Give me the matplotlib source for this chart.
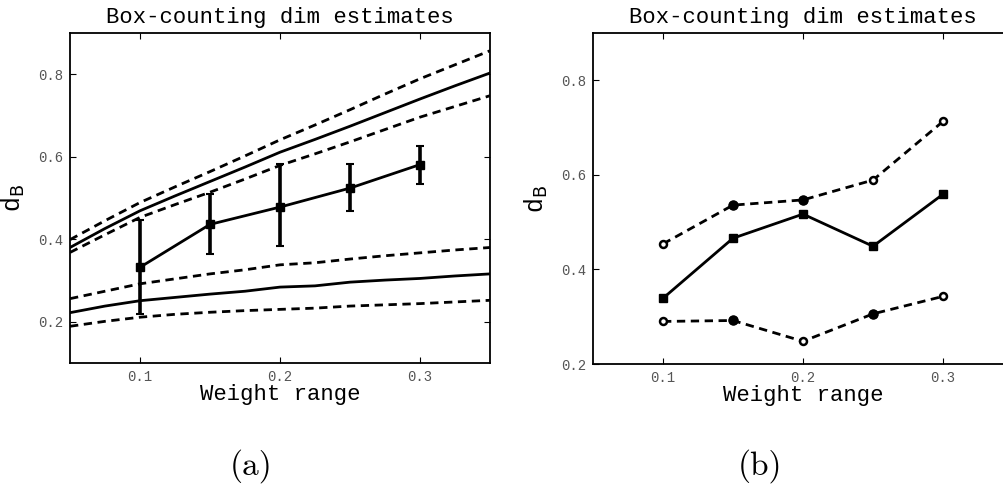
import matplotlib
matplotlib.use("Agg")
import matplotlib.pyplot as plt

# ---- data ----
# panel (a): dense curves on a 0.025 grid
grid_x = [0.05, 0.075, 0.1, 0.125, 0.15, 0.175, 0.2, 0.225, 0.25, 0.275, 0.3, 0.325, 0.35]
hi_upper = [0.399, 0.445, 0.489, 0.527, 0.564, 0.602, 0.641, 0.677, 0.714, 0.752, 0.789, 0.823, 0.857]
hi_mean = [0.380, 0.426, 0.469, 0.505, 0.540, 0.575, 0.611, 0.642, 0.674, 0.707, 0.740, 0.772, 0.803]
hi_lower = [0.368, 0.411, 0.453, 0.484, 0.514, 0.546, 0.579, 0.607, 0.636, 0.666, 0.696, 0.722, 0.748]
lo_upper = [0.256, 0.274, 0.292, 0.304, 0.316, 0.326, 0.338, 0.343, 0.352, 0.360, 0.367, 0.374, 0.380]
lo_mean = [0.222, 0.238, 0.251, 0.259, 0.267, 0.274, 0.284, 0.287, 0.296, 0.301, 0.305, 0.311, 0.316]
lo_lower = [0.189, 0.201, 0.211, 0.218, 0.223, 0.227, 0.230, 0.233, 0.238, 0.241, 0.244, 0.248, 0.252]

# panel (a): measured estimates with error bars
wr = [0.1, 0.15, 0.2, 0.25, 0.3]
est = [0.332, 0.436, 0.478, 0.524, 0.581]
est_hi = [0.446, 0.510, 0.582, 0.583, 0.627]
est_lo = [0.220, 0.364, 0.384, 0.469, 0.535]

# panel (b)
b_mean = [0.339, 0.466, 0.517, 0.449, 0.559]
b_upper = [0.454, 0.536, 0.547, 0.589, 0.713]
b_lower = [0.290, 0.292, 0.248, 0.306, 0.343]
b_upper_filled = [False, True, True, False, False]
b_lower_filled = [False, True, False, True, False]

xticks = [0.1, 0.2, 0.3]
yticks = [0.2, 0.4, 0.6, 0.8]

MONO = "Liberation Mono"
plt.rcParams["font.family"] = MONO
plt.rcParams["mathtext.default"] = "regular"

LW = 2.0
DASH = (3, 2)


def style_axes(ax, ylim):
    ax.set_xlim(0.05, 0.35)
    ax.set_ylim(*ylim)
    ax.set_xticks(xticks)
    ax.set_yticks(yticks)
    ax.set_xticklabels([f"{t:.1f}" for t in xticks])
    ax.set_yticklabels([f"{t:.1f}" for t in yticks])
    ax.tick_params(direction="in", top=True, right=True, length=4, width=0.8,
                   labelsize=10, labelcolor="#555555", pad=5)
    for s in ax.spines.values():
        s.set_linewidth(1.3)
    ax.set_title("Box-counting dim estimates", fontsize=16, pad=7)
    ax.set_xlabel("Weight range", fontsize=16, labelpad=0)
    ax.set_ylabel(r"d$_\mathrm{B}$", fontsize=18, labelpad=8)


fig = plt.figure(figsize=(10.04, 5.03), dpi=100)
W, H = 1004, 503
ax_a = fig.add_axes([70 / W, 1 - 363 / H, 420 / W, 330 / H])
ax_b = fig.add_axes([593 / W, 1 - 364 / H, 420 / W, 331 / H])

# (a)
for ys in (hi_upper, hi_lower, lo_upper, lo_lower):
    ax_a.plot(grid_x, ys, color="black", lw=LW, dashes=DASH)
for ys in (hi_mean, lo_mean):
    ax_a.plot(grid_x, ys, color="black", lw=LW)
yerr = [[e - l for e, l in zip(est, est_lo)], [h - e for e, h in zip(est, est_hi)]]
ax_a.errorbar(wr, est, yerr=yerr, color="black", lw=LW, elinewidth=2.6,
              capsize=3, capthick=1.5, marker="s", ms=6)
style_axes(ax_a, (0.1, 0.9))

# (b)
ax_b.plot(wr, b_mean, color="black", lw=LW, marker="s", ms=6)
for ys, filled in ((b_upper, b_upper_filled), (b_lower, b_lower_filled)):
    ax_b.plot(wr, ys, color="black", lw=LW, dashes=DASH, marker="o", ms=5,
              mfc="white", mew=1.8)
    fx = [x for x, f in zip(wr, filled) if f]
    fy = [y for y, f in zip(ys, filled) if f]
    ax_b.plot(fx, fy, ls="none", marker="o", ms=6.5, color="black")
style_axes(ax_b, (0.2, 0.9))

fig.text(251 / W, 1 - 466 / H, "(a)", fontsize=24, family="cmr10", ha="center", va="center")
fig.text(760 / W, 1 - 466 / H, "(b)", fontsize=24, family="cmr10", ha="center", va="center")

fig.savefig("out.png", dpi=100)
